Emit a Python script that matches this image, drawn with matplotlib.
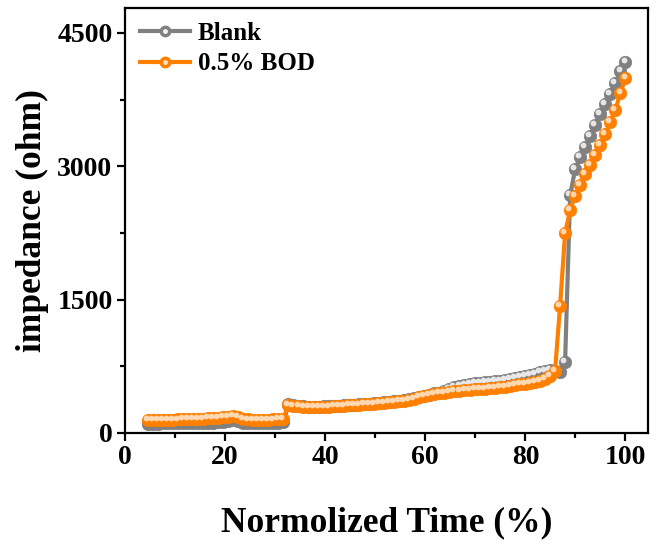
import numpy as np
import matplotlib
matplotlib.use("Agg")
import matplotlib.pyplot as plt
from matplotlib.transforms import offset_copy
from matplotlib.lines import Line2D
from matplotlib.legend_handler import HandlerTuple

# ---- data ----
time_pct = np.linspace(4.5, 100, 96)

blank = [105, 106, 106, 107, 107, 108, 108, 109, 110, 111, 112, 113, 115, 117, 120, 124,
         132, 145, 140, 118, 112, 110, 110, 110, 111, 112, 115, 120,
         325, 312, 305, 300, 298, 297, 298, 299, 300, 303, 306, 310, 314, 318, 322, 326,
         330, 335, 340, 345, 351, 357, 364, 372, 381, 392, 405, 418, 432, 446,
         455, 475, 495, 515, 530, 543, 553, 560, 566, 572, 578, 584, 590, 597, 605, 614,
         625, 638, 652, 668, 685, 700, 705, 695, 685,
         802, 2677, 2966, 3101, 3221, 3344, 3464, 3588, 3700, 3809, 3933, 4072, 4177]

bod = [146, 147, 148, 149, 150, 151, 152, 153, 155, 157, 159, 161, 164, 167, 171, 176,
       185, 195, 185, 158, 152, 150, 150, 150, 151, 152, 155, 158,
       315, 305, 300, 297, 295, 294, 295, 295, 296, 299, 302, 306, 310, 314, 318, 322,
       326, 330, 334, 339, 344, 350, 356, 363, 372, 384, 400, 412, 423, 434,
       446, 455, 464, 472, 477, 482, 487, 491, 495, 500, 505, 510, 516, 522, 530, 539,
       548, 555, 562, 570, 585, 610, 640, 695,
       1432, 2246, 2510, 2670, 2785, 2910, 3015, 3127, 3240, 3363, 3502, 3633, 3828, 3990]

labels = ["Blank", "0.5% BOD"]
colors = ["#808080", "#ff7f00"]
highlights = ["#f2f2f2", "#ffe2c4"]

plt.rcParams['font.family'] = ['Liberation Serif', 'DejaVu Serif']
plt.rcParams['font.weight'] = 'bold'

fig = plt.figure(figsize=(6.56, 5.47), dpi=100)
ax = fig.add_axes([125/656, 1 - 433/547, (648 - 125)/656, (433 - 8)/547])

hl_trans = offset_copy(ax.transData, fig=fig, x=-1.4, y=1.4, units='points')

handles = []
for series, lab, c, h in zip([blank, bod], labels, colors, highlights):
    ax.plot(time_pct, series, color=c, lw=3, marker='o', ms=9,
            mec=c, mfc=c, mew=0.5, zorder=2)
    ax.plot(time_pct, series, ls='none', marker='o', ms=4.2, mfc=h, mec='none',
            alpha=0.9, transform=hl_trans, zorder=2)
    base = Line2D([], [], color=c, lw=3, marker='o', ms=7.5, mfc=c, mec=c)
    hl = Line2D([], [], ls='none', marker='o', ms=3.5, mfc=h, mec='none')
    handles.append((base, hl))

ax.set_xlim(0, 104.5)
ax.set_ylim(0, 4780)
ax.set_xticks([0, 20, 40, 60, 80, 100])
ax.set_xticks([10, 30, 50, 70, 90], minor=True)
ax.set_yticks([0, 1500, 3000, 4500])
ax.set_yticks([750, 2250, 3750], minor=True)

for sp in ax.spines.values():
    sp.set_linewidth(1.6)
ax.tick_params(which='major', direction='out', length=6, width=1.6, labelsize=20, pad=3)
ax.tick_params(which='minor', direction='out', length=3.5, width=1.6)
for t in ax.get_xticklabels() + ax.get_yticklabels():
    t.set_fontweight('bold')

ax.set_xlabel("Normolized Time (%)", fontsize=25.5, fontweight='bold', labelpad=26)
ax.set_ylabel("impedance (ohm)", fontsize=25.5, fontweight='bold', labelpad=6)

leg = ax.legend(handles, labels, handler_map={tuple: HandlerTuple(ndivide=1, pad=0)},
                loc='upper left', bbox_to_anchor=(140/656, 1 - 22/547),
                bbox_transform=fig.transFigure, frameon=False,
                prop={'size': 18, 'weight': 'bold'}, handlelength=2.0,
                handletextpad=0.3, labelspacing=0.3, borderpad=0, borderaxespad=0)

fig.savefig("out.png", dpi=100)
